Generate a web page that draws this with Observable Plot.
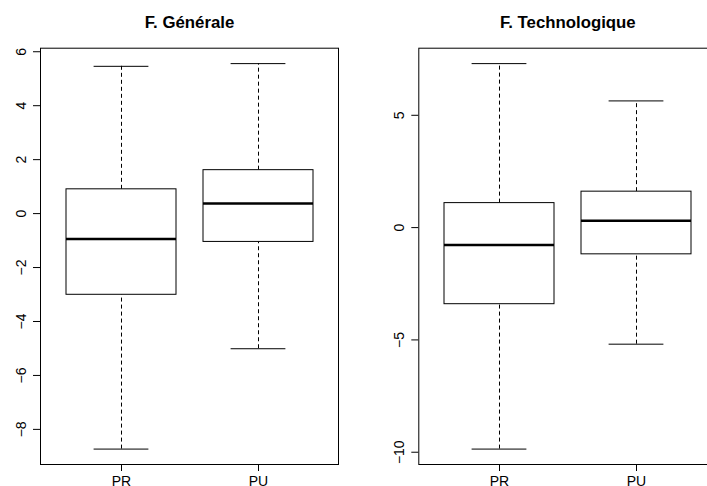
<!DOCTYPE html>
<html>
<head>
<meta charset="utf-8">
<script src="https://cdn.jsdelivr.net/npm/d3@7"></script>
<script src="https://cdn.jsdelivr.net/npm/@observablehq/plot@0.6"></script>
<style>
  html, body { margin: 0; padding: 0; background: #fff; }
  #wrap { position: relative; width: 707px; height: 486px; overflow: hidden; }
  #wrap svg { position: absolute; top: 0; overflow: visible; }
</style>
</head>
<body>
<div id="wrap"></div>
<script>
const groups = ["PR", "PU"];

const genTitle = "F. Générale";
const genMin = [-8.73, -5.01];
const genQ1  = [-3.01, -1.05];
const genMed = [-0.94,  0.37];
const genQ3  = [ 0.90,  1.61];
const genMax = [ 5.46,  5.56];
const genTicks = [-8, -6, -4, -2, 0, 2, 4, 6];

const techTitle = "F. Technologique";
const techMin = [-9.86, -5.19];
const techQ1  = [-3.41, -1.19];
const techMed = [-0.77,  0.30];
const techQ3  = [ 1.09,  1.60];
const techMax = [ 7.30,  5.64];
const techTicks = [-10, -5, 0, 5];

function rows(mn, q1, md, q3, mx) {
  return groups.map((g, i) => ({g, min: mn[i], q1: q1[i], med: md[i], q3: q3[i], max: mx[i]}));
}

function panel({title, data, ticks, marginLeft, left, width}) {
  const lo = d3.min(data, d => d.min), hi = d3.max(data, d => d.max);
  const pad = (hi - lo) * 0.04;
  const font = "Liberation Sans, Arial, Helvetica, sans-serif";
  const p = Plot.plot({
    width, height: 486,
    marginLeft, marginRight: width - marginLeft - 298, marginTop: 47.7, marginBottom: 22,
    style: {fontFamily: font, fontSize: "14px", color: "#000", background: "transparent"},
    x: {domain: groups, paddingInner: 0.2, paddingOuter: 0.18, label: null},
    y: {domain: [lo - pad, hi + pad], label: null},
    marks: [
      Plot.ruleX(data, {x: "g", y1: "q3", y2: "max", stroke: "#000", strokeWidth: 1, strokeDasharray: "4,3"}),
      Plot.ruleX(data, {x: "g", y1: "min", y2: "q1", stroke: "#000", strokeWidth: 1, strokeDasharray: "4,3"}),
      Plot.tickY(data, {x: "g", y: "max", stroke: "#000", strokeWidth: 1, insetLeft: 27.6, insetRight: 27.6}),
      Plot.tickY(data, {x: "g", y: "min", stroke: "#000", strokeWidth: 1, insetLeft: 27.6, insetRight: 27.6}),
      Plot.barY(data, {x: "g", y1: "q1", y2: "q3", fill: "#fff", stroke: "#000", strokeWidth: 1}),
      Plot.tickY(data, {x: "g", y: "med", stroke: "#000", strokeWidth: 2.5}),
      Plot.frame({stroke: "#000", strokeWidth: 1}),
      Plot.axisY({ticks, tickRotate: -90, tickSize: 7, tickPadding: 8, fontSize: 14, tickFormat: d3.format("d")}),
      Plot.axisX({tickSize: 7, tickPadding: 5, fontSize: 14}),
      Plot.text([title], {text: d => d, frameAnchor: "top", lineAnchor: "bottom", dy: -20.7,
        fontSize: 16.8, fontWeight: "bold", fill: "#000"})
    ]
  });
  p.style.left = left + "px";
  return p;
}

const wrap = document.getElementById("wrap");
wrap.appendChild(panel({title: genTitle, data: rows(genMin, genQ1, genMed, genQ3, genMax),
  ticks: genTicks, marginLeft: 40, left: 0, width: 353}));
wrap.appendChild(panel({title: techTitle, data: rows(techMin, techQ1, techMed, techQ3, techMax),
  ticks: techTicks, marginLeft: 65.3, left: 353, width: 380}));
</script>
</body>
</html>
